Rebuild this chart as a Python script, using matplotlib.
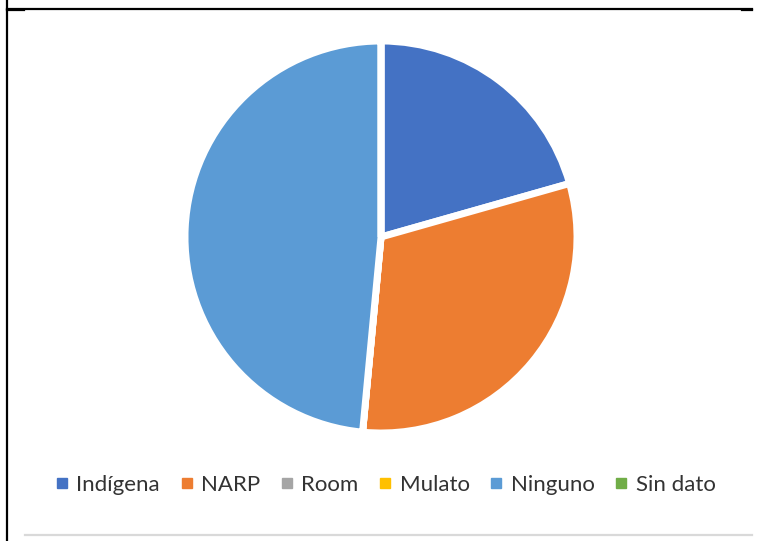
import matplotlib
matplotlib.use("Agg")
import matplotlib.pyplot as plt
from matplotlib.lines import Line2D

categories = ["Indígena", "NARP", "Room", "Mulato", "Ninguno", "Sin dato"]
values = [20.6, 30.9, 0, 0, 48.5, 0]
colors = ["#4472C4", "#ED7D31", "#A5A5A5", "#FFC000", "#5B9BD5", "#70AD47"]

W, H = 759, 541
fig = plt.figure(figsize=(W / 100, H / 100), dpi=100)
fig.patch.set_facecolor("white")

def fx(x):
    return x / W

def fy(y):
    return 1 - y / H

cx, cy, r = 381, 237, 196
ax = fig.add_axes([fx(cx - r), fy(cy + r), 2 * r / W, 2 * r / H])
wedges, _ = ax.pie(values, colors=colors, startangle=90, counterclock=False,
                   radius=1.0,
                   wedgeprops=dict(edgecolor="white", linewidth=5))
ax.set_xlim(-1.0, 1.0)
ax.set_ylim(-1.0, 1.0)
ax.set_aspect("equal")
ax.axis("off")

# legend
handles = [Line2D([], [], marker="s", linestyle="none", markersize=7,
                  markerfacecolor=c, markeredgecolor=c) for c in colors]
leg = fig.legend(handles, categories, loc="center", ncol=6,
                 bbox_to_anchor=(fx(386), fy(485)), frameon=False,
                 prop={"family": "Lato", "size": 16},
                 handlelength=0.5, handletextpad=0.4, columnspacing=0.95,
                 labelcolor="#333333")

# frame decorations
fig.add_artist(Line2D([fx(7), fx(752)], [fy(8.5), fy(8.5)], color="black", lw=1.6))
fig.add_artist(Line2D([fx(7), fx(24)], [fy(10), fy(10)], color="black", lw=1.6))
fig.add_artist(Line2D([fx(742), fx(752)], [fy(10), fy(10)], color="black", lw=1.6))
fig.add_artist(Line2D([fx(7), fx(7)], [fy(0), fy(541)], color="black", lw=1.6))
fig.add_artist(Line2D([fx(25), fx(752)], [fy(535), fy(535)], color="#D9D9D9", lw=1.6))

fig.savefig("out.png", dpi=100, facecolor="white")
